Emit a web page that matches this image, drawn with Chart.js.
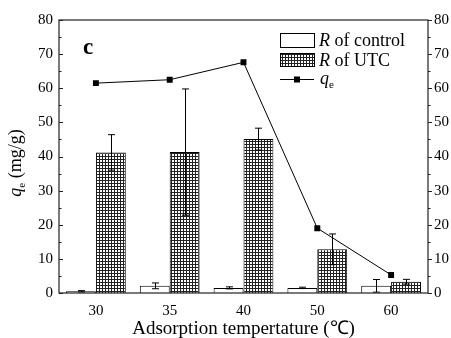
<!DOCTYPE html>
<html>
<head>
<meta charset="utf-8">
<script src="https://cdn.jsdelivr.net/npm/chart.js@4/dist/chart.umd.min.js"></script>
<style>
  html, body { margin: 0; padding: 0; background: #fff; }
  #wrap { width: 451px; height: 338px; }
</style>
</head>
<body>
<div id="wrap"><canvas id="c" width="451" height="338"></canvas></div>
<script>
// Adsorption temperature (°C)
const categories = ['30', '35', '40', '50', '60'];
// Removal ratio R of the control group and its error
const controlR   = [0.5, 2.1, 1.5, 1.5, 2.1];
const controlErr = [0.2, 0.85, 0.3, 0.2, 1.85];
// Removal ratio R of UTC and its error
const utcR   = [41.2, 41.3, 45.1, 12.8, 3.3];
const utcErr = [5.2, 18.5, 3.2, 4.5, 0.7];
// Equilibrium adsorption capacity q_e (mg/g)
const qe = [61.5, 62.5, 67.6, 19.0, 5.3];
// Axis ticks
const yMajor = [0, 10, 20, 30, 40, 50, 60, 70, 80];
const yMinor = [5, 15, 25, 35, 45, 55, 65, 75];

const SERIF = '"Liberation Serif", "Times New Roman", serif';

// Cross-hatched fill for the UTC bars
function makeHatch() {
  const t = document.createElement('canvas');
  t.width = 3; t.height = 3;
  const g = t.getContext('2d');
  g.fillStyle = '#222';
  g.fillRect(0, 0, 3, 3);
  g.fillStyle = '#fff';
  g.fillRect(1, 1, 2, 2);
  return document.getElementById('c').getContext('2d').createPattern(t, 'repeat');
}
const hatch = makeHatch();

// Error bars, frame, inward/outward ticks, legend and annotations
const decorations = {
  id: 'decorations',
  afterDatasetsDraw(chart) {
    const ctx = chart.ctx;
    const ys = chart.scales.y;
    const area = chart.chartArea;
    ctx.save();
    ctx.strokeStyle = '#000';
    ctx.lineWidth = 1;

    // error bars
    [[0, controlR, controlErr], [1, utcR, utcErr]].forEach(([idx, vals, errs]) => {
      const meta = chart.getDatasetMeta(idx);
      meta.data.forEach((el, i) => {
        const x = Math.round(el.x) + 0.5;
        const yt = ys.getPixelForValue(vals[i] + errs[i]);
        const yb = ys.getPixelForValue(Math.max(0, vals[i] - errs[i]));
        ctx.beginPath();
        ctx.moveTo(x, yt); ctx.lineTo(x, yb);
        ctx.moveTo(x - 3.5, yt); ctx.lineTo(x + 3.5, yt);
        ctx.moveTo(x - 3.5, yb); ctx.lineTo(x + 3.5, yb);
        ctx.stroke();
      });
    });

    // frame
    ctx.lineWidth = 1.2;
    ctx.strokeStyle = '#222';
    ctx.strokeRect(area.left, area.top, area.right - area.left, area.bottom - area.top);

    // left axis ticks point inward, right axis ticks point outward
    ctx.lineWidth = 1;
    ctx.beginPath();
    yMajor.forEach(v => {
      const y = Math.round(ys.getPixelForValue(v)) + 0.5;
      ctx.moveTo(area.left, y); ctx.lineTo(area.left + 4, y);
      ctx.moveTo(area.right, y); ctx.lineTo(area.right + 4, y);
    });
    yMinor.forEach(v => {
      const y = Math.round(ys.getPixelForValue(v)) + 0.5;
      ctx.moveTo(area.left, y); ctx.lineTo(area.left + 2.5, y);
      ctx.moveTo(area.right, y); ctx.lineTo(area.right + 2.5, y);
    });
    ctx.stroke();
    ctx.restore();
  },
  afterDraw(chart) {
    const ctx = chart.ctx;
    const area = chart.chartArea;
    ctx.save();
    ctx.fillStyle = '#000';
    ctx.strokeStyle = '#000';
    ctx.textBaseline = 'alphabetic';

    // panel letter
    ctx.font = 'bold 23px ' + SERIF;
    ctx.fillText('c', 83, 54);

    // legend
    const lx = 280, bw = 34;
    ctx.lineWidth = 1;
    ctx.fillStyle = '#fff';
    ctx.fillRect(lx, 33, bw, 14);
    ctx.strokeRect(lx + 0.5, 33.5, bw, 14);
    ctx.fillStyle = hatch;
    ctx.fillRect(lx, 53, bw, 13);
    ctx.strokeRect(lx + 0.5, 53.5, bw, 13);
    ctx.beginPath();
    ctx.moveTo(lx, 79.5); ctx.lineTo(lx + bw, 79.5);
    ctx.stroke();
    ctx.fillStyle = '#000';
    ctx.fillRect(lx + bw / 2 - 3, 76.5, 6, 6);

    const tx = 319;
    function rich(parts, x, y) {
      parts.forEach(p => {
        ctx.font = p.f;
        ctx.fillText(p.t, x, y + (p.dy || 0));
        x += ctx.measureText(p.t).width;
      });
    }
    rich([{ t: 'R', f: 'italic 18px ' + SERIF }, { t: ' of control', f: '18px ' + SERIF }], tx, 46);
    rich([{ t: 'R', f: 'italic 18px ' + SERIF }, { t: ' of UTC', f: '18px ' + SERIF }], tx, 66);
    rich([{ t: 'q', f: 'italic 18px ' + SERIF }, { t: 'e', f: '11px ' + SERIF, dy: 4 }], tx + 1, 84);

    // y axis title
    ctx.save();
    ctx.translate(21, 163);
    ctx.rotate(-Math.PI / 2);
    const parts = [
      { t: 'q', f: 'italic 18px ' + SERIF },
      { t: 'e', f: '11px ' + SERIF, dy: 4 },
      { t: ' (mg/g)', f: '18px ' + SERIF }
    ];
    let w = 0;
    parts.forEach(p => { ctx.font = p.f; w += ctx.measureText(p.t).width; });
    rich(parts, -w / 2, 0);
    ctx.restore();

    // x axis title
    ctx.font = '19px ' + SERIF;
    ctx.textAlign = 'center';
    ctx.fillText('Adsorption tempertature (\u2103)', (area.left + area.right) / 2, 334);
    ctx.restore();
  }
};

new Chart(document.getElementById('c'), {
  data: {
    labels: categories,
    datasets: [
      {
        type: 'bar',
        label: 'R of control',
        data: controlR,
        backgroundColor: '#fff',
        borderColor: '#000',
        borderWidth: 1,
        categoryPercentage: 0.81,
        barPercentage: 1.0,
        order: 2
      },
      {
        type: 'bar',
        label: 'R of UTC',
        data: utcR,
        backgroundColor: hatch,
        borderColor: '#000',
        borderWidth: 1,
        categoryPercentage: 0.81,
        barPercentage: 1.0,
        order: 2
      },
      {
        type: 'line',
        label: 'qe',
        data: qe,
        borderColor: '#000',
        borderWidth: 1,
        backgroundColor: '#000',
        pointStyle: 'rect',
        pointRadius: 4.2,
        pointBackgroundColor: '#000',
        pointBorderWidth: 0,
        tension: 0,
        order: 1
      }
    ]
  },
  options: {
    responsive: false,
    animation: false,
    layout: { padding: { top: 20, left: 0, right: 0, bottom: 0 } },
    plugins: { legend: { display: false }, tooltip: { enabled: false } },
    scales: {
      x: {
        type: 'category',
        offset: true,
        grid: { display: false, drawTicks: false },
        border: { display: false },
        ticks: { color: '#000', font: { family: SERIF, size: 15 }, padding: 9 },
        afterFit(s) { s.height = 45; }
      },
      y: {
        position: 'left',
        min: 0, max: 80,
        grid: { display: false, drawTicks: false },
        border: { display: false },
        ticks: { stepSize: 10, color: '#000', font: { family: SERIF, size: 15 }, padding: 6 },
        afterFit(s) { s.width = 59; }
      },
      y2: {
        position: 'right',
        min: 0, max: 80,
        grid: { display: false, drawTicks: false },
        border: { display: false },
        ticks: { stepSize: 10, color: '#000', font: { family: SERIF, size: 15 }, padding: 6 },
        afterFit(s) { s.width = 23; }
      }
    }
  },
  plugins: [decorations]
});
</script>
</body>
</html>
